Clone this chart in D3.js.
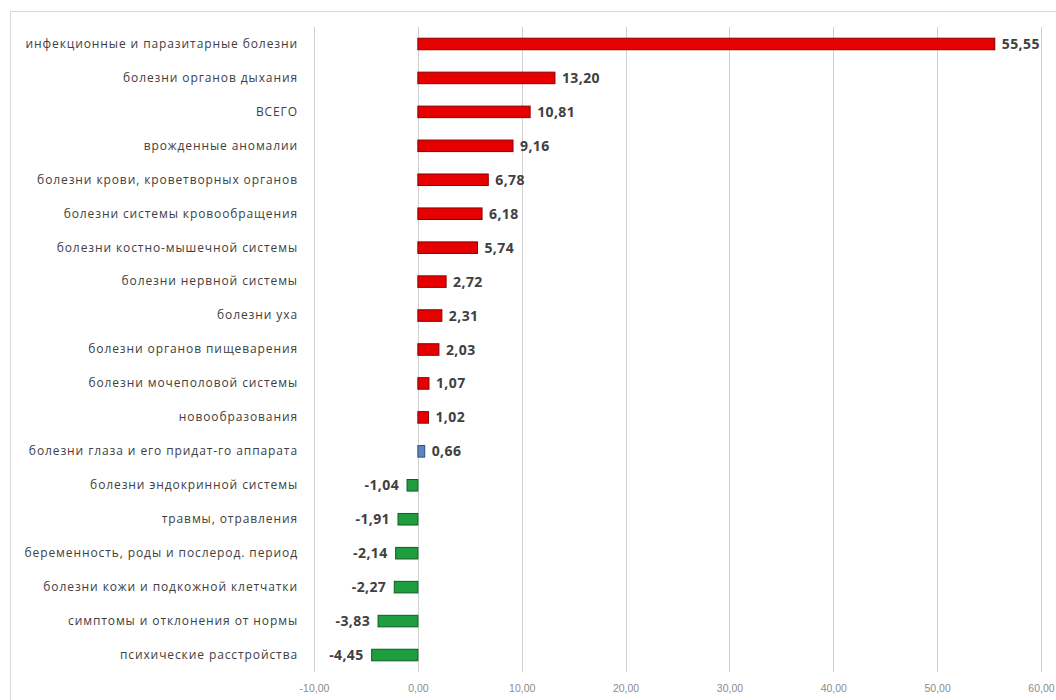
<!DOCTYPE html>
<html><head><meta charset="utf-8">
<script src="https://cdn.jsdelivr.net/npm/d3@7"></script>
<style>body{margin:0;background:#fff}svg{display:block}</style>
</head><body><svg id="c" width="1056" height="700"></svg>
<script>
const categories = [
  "инфекционные и паразитарные болезни",
  "болезни органов дыхания",
  "ВСЕГО",
  "врожденные аномалии",
  "болезни крови, кроветворных органов",
  "болезни системы кровообращения",
  "болезни костно-мышечной системы",
  "болезни нервной системы",
  "болезни уха",
  "болезни органов пищеварения",
  "болезни мочеполовой системы",
  "новообразования",
  "болезни глаза и его придат-го аппарата",
  "болезни эндокринной системы",
  "травмы, отравления",
  "беременность, роды и послерод. период",
  "болезни кожи и подкожной клетчатки",
  "симптомы и отклонения от нормы",
  "психические расстройства"
];
const values = [55.55, 13.20, 10.81, 9.16, 6.78, 6.18, 5.74, 2.72, 2.31, 2.03, 1.07, 1.02, 0.66, -1.04, -1.91, -2.14, -2.27, -3.83, -4.45];
const tickValues = [-10, 0, 10, 20, 30, 40, 50, 60];

const svg = d3.select("#c");
const fmt = v => v.toFixed(2).replace(".", ",");

// chart border
svg.append("rect").attr("x", 10.5).attr("y", 11.5).attr("width", 1060).attr("height", 700)
  .attr("fill", "none").attr("stroke", "#d9d9d9");

const x = d3.scaleLinear().domain([-10, 60]).range([314, 1041]);
const y = d3.scaleBand().domain(categories).range([27, 672]).paddingInner(0.66).paddingOuter(0.33);

// gridlines
svg.append("g").selectAll("line").data(tickValues).join("line")
  .attr("x1", d => Math.round(x(d)) + 0.5).attr("x2", d => Math.round(x(d)) + 0.5)
  .attr("y1", 27).attr("y2", 672)
  .attr("stroke", "#d0d0d0").attr("stroke-width", 1);

// x axis labels
const xa = svg.append("g").attr("transform", "translate(0,672)")
  .call(d3.axisBottom(x).tickValues(tickValues).tickFormat(fmt).tickSize(0).tickPadding(13));
xa.select(".domain").remove();
xa.selectAll("text").attr("font-family", "Liberation Sans, sans-serif").attr("font-size", 10.5)
  .attr("fill", "#8c8c8c");

// category labels
const ya = svg.append("g").attr("transform", "translate(298,0)")
  .call(d3.axisLeft(y).tickSize(0).tickPadding(0));
ya.select(".domain").remove();
ya.selectAll("text").attr("font-family", "Open Sans, sans-serif").attr("font-size", 12)
  .attr("letter-spacing", "0.9px").attr("fill", "#404040");

const fillOf = v => v < 0 ? "#1f9e3f" : (v < 1 ? "#5b86c0" : "#e60000");
const strokeOf = v => v < 0 ? "#0d5c22" : (v < 1 ? "#2f4f7a" : "#8b0000");

svg.append("g").selectAll("rect").data(values).join("rect")
  .attr("x", d => x(Math.min(0, d)))
  .attr("y", (d, i) => y(categories[i]))
  .attr("width", d => Math.abs(x(d) - x(0)))
  .attr("height", y.bandwidth())
  .attr("fill", fillOf).attr("stroke", strokeOf).attr("stroke-width", 1);

svg.append("g").selectAll("text").data(values).join("text")
  .attr("x", d => d >= 0 ? x(d) + 7 : x(d) - 8)
  .attr("y", (d, i) => y(categories[i]) + y.bandwidth() / 2)
  .attr("dy", "0.36em")
  .attr("text-anchor", d => d >= 0 ? "start" : "end")
  .attr("font-family", "Open Sans, sans-serif").attr("font-weight", "bold")
  .attr("font-size", 14).attr("letter-spacing", "0.4px").attr("fill", "#404040")
  .text(fmt);
</script></body></html>
